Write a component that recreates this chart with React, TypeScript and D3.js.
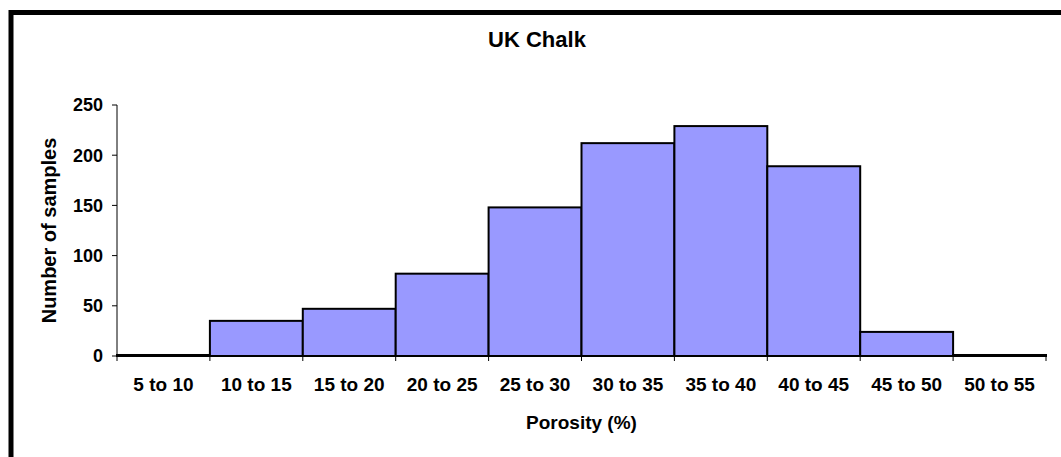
import React from 'react';
import * as d3 from 'd3';

const bins = ['5 to 10', '10 to 15', '15 to 20', '20 to 25', '25 to 30', '30 to 35', '35 to 40', '40 to 45', '45 to 50', '50 to 55'];
const counts = [1, 35, 47, 82, 148, 212, 229, 189, 24, 1];
const yTicks = [0, 50, 100, 150, 200, 250];

const W = 1061;
const H = 457;
const m = { left: 117, right: 1046, top: 105, bottom: 356 };
const font = '"Liberation Sans", Arial, sans-serif';

export default function App() {
	const x = d3.scaleBand<string>().domain(bins).range([m.left, m.right]).padding(0);
	const y = d3.scaleLinear().domain([0, 250]).range([m.bottom, m.top]);
	const edges = [...bins.map(b => x(b) as number), m.right];

	return (
		<div style={{ position: 'absolute', left: 0, top: 0 }}>
			<svg width={W} height={H} style={{ display: 'block', fontFamily: font }}>
				<rect x={0} y={0} width={W} height={H} fill="#fff" />
				{/* outer frame, runs off the right and bottom */}
				<rect x={11} y={12.5} width={1200} height={600} fill="none" stroke="#000" strokeWidth={5} />

				<text x={537} y={47} textAnchor="middle" fontSize={22} fontWeight="bold">UK Chalk</text>

				{/* bars */}
				{bins.map((b, i) => (
					<rect key={b} x={x(b)} y={y(counts[i])} width={x.bandwidth()}
						height={m.bottom - y(counts[i])}
						fill="#9999FF" stroke="#000" strokeWidth={2} />
				))}

				{/* y axis */}
				<line x1={m.left} x2={m.left} y1={m.top} y2={m.bottom} stroke="#000" strokeWidth={1} />
				{yTicks.map(t => (
					<g key={t}>
						<line x1={m.left - 5} x2={m.left} y1={y(t)} y2={y(t)} stroke="#000" />
						<text x={103} y={y(t)} dy="0.36em" textAnchor="end" fontSize={18} fontWeight="bold">{t}</text>
					</g>
				))}

				{/* x axis */}
				<line x1={m.left} x2={m.right} y1={m.bottom} y2={m.bottom} stroke="#000" strokeWidth={1} />
				{edges.map((e, i) => (
					<line key={i} x1={e} x2={e} y1={m.bottom} y2={m.bottom + 5} stroke="#000" />
				))}
				{bins.map(b => (
					<text key={b} x={(x(b) as number) + x.bandwidth() / 2} y={391} textAnchor="middle" fontSize={19} fontWeight="bold">{b}</text>
				))}

				<text x={(m.left + m.right) / 2} y={429} textAnchor="middle" fontSize={19} fontWeight="bold">Porosity (%)</text>
				<text transform={`translate(56,${(m.top + m.bottom) / 2}) rotate(-90)`} textAnchor="middle" fontSize={20} fontWeight="bold">Number of samples</text>
			</svg>
		</div>
	);
}
